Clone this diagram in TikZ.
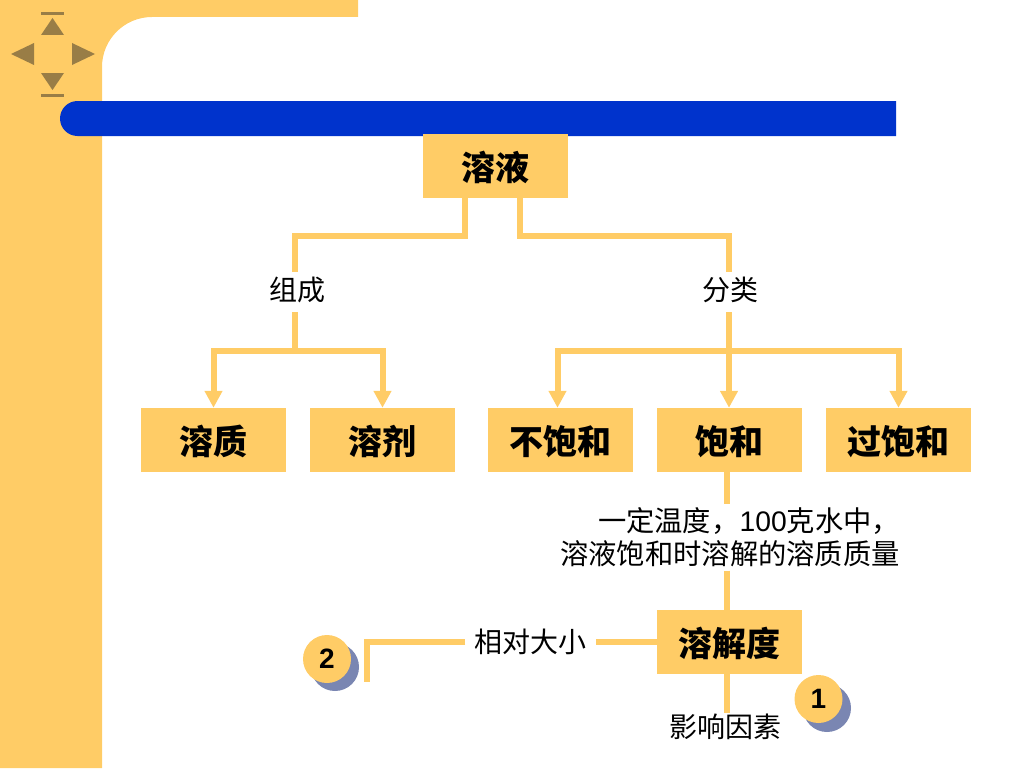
\documentclass[tikz,border=0pt]{standalone}
\usepackage{fontspec}
\setmainfont{Liberation Sans}
\newfontfamily\cjk{Noto Sans CJK SC}
\usetikzlibrary{arrows.meta}
\definecolor{sand}{RGB}{255,204,102}
\definecolor{navy}{RGB}{0,51,204}
\definecolor{nav}{RGB}{153,125,70}
\definecolor{dusk}{RGB}{122,134,178}
\tikzset{
	box/.style={fill=sand,minimum width=145pt,minimum height=64pt,inner sep=0pt,text height=29pt,text depth=0pt,font=\cjk\bfseries\fontsize{34}{34}\selectfont},
	lab/.style={inner sep=0pt,minimum height=36pt,font=\cjk\fontsize{28}{28}\selectfont},
	badge/.style={circle,fill=sand,minimum size=48pt,inner sep=0pt,font=\bfseries\fontsize{28}{28}\selectfont},
	link/.style={draw=sand,line width=6pt},
	tip/.style={link,-{Triangle[width=17pt,length=17pt,fill=sand]}}
}
\begin{document}
\begin{tikzpicture}[x=1pt,y=-1pt]
\useasboundingbox (0,0) rectangle (1024,768);

% background
\fill[sand] (0,0) -- (358,0) -- (358,17) -- (152,17) arc (270:180:50) -- (102,768) -- (0,768) -- cycle;
\fill[navy] (896,101) -- (77.5,101) arc (270:90:17.5) -- (896,136) -- cycle;
\fill[nav] (41,12) rectangle (64,15);
\fill[nav] (41,94) rectangle (64,97);
\fill[nav] (52.5,18) -- (41,35) -- (64,35) -- cycle;
\fill[nav] (52.5,90) -- (41,73) -- (64,73) -- cycle;
\fill[nav] (11,54) -- (34,43) -- (34,65) -- cycle;
\fill[nav] (95,54) -- (72,43) -- (72,65) -- cycle;

% boxes
\node[box] (root) at (495.5,166) {溶液};
\node[box] (solute) at (213.5,440) {溶质};
\node[box] (solvent) at (382.5,440) {溶剂};
\node[box] (unsat) at (560.5,440) {不饱和};
\node[box] (sat) at (729.5,440) {饱和};
\node[box] (super) at (898.5,440) {过饱和};
\node[box] (solub) at (729.5,642) {溶解度};

% labels
\node[lab] (comp) at (297,290) {组成};
\node[lab] (kind) at (730,290) {分类};
\node[inner sep=0pt,minimum height=66pt,align=center,font=\fontsize{28.3}{33}\selectfont] (defn) at (730,537.5)
	{\hspace*{38pt}\cjk 一定温度，{\normalfont 100}克水中，\\ \cjk 溶液饱和时溶解的溶质质量};
\node[lab,minimum width=130pt] (rel) at (530.5,642) {\raisebox{1pt}{相对大小}};
\node[lab,minimum height=28pt] (factor) at (725,727) {影响因素};

% badges
\fill[dusk] (335,667) circle (24);
\node[badge] (two) at (327,659) {2};
\fill[dusk] (827,708) circle (24);
\node[badge] (one) at (818.5,699) {1};

\coordinate (hook) at (367,682);
\coordinate (fork1) at (295,351);
\coordinate (fork2) at (729,351);

% connectors
\draw[link] ([xshift=-31pt]root.south) -- ++(0,38) -| (comp.north -| fork1);
\draw[link] ([xshift=24pt]root.south) -- ++(0,38) -| (kind.north -| fork2);
\draw[link] ([yshift=-4pt]comp.south -| fork1) -- (fork1);
\draw[link] ([yshift=-4pt]kind.south -| fork2) -- (fork2);
\draw[tip] (fork1) -| (solute.north);
\draw[tip] (fork1) -| (solvent.north);
\draw[tip] (fork2) -| ([xshift=-3pt]unsat.north);
\draw[tip] (fork2) -- (sat.north -| fork2);
\draw[tip] (fork2) -| (super.north);
\draw[link] (sat.south -| 727,0) -- (defn.north -| 727,0);
\draw[link] (defn.south -| 727,0) -- (solub.north -| 727,0);
\draw[link] (solub.west) -- (rel.east);
\draw[link] (rel.west) -| (hook);
\draw[link] (solub.south -| 727,0) -- (factor.north -| 727,0);
\end{tikzpicture}
\end{document}
